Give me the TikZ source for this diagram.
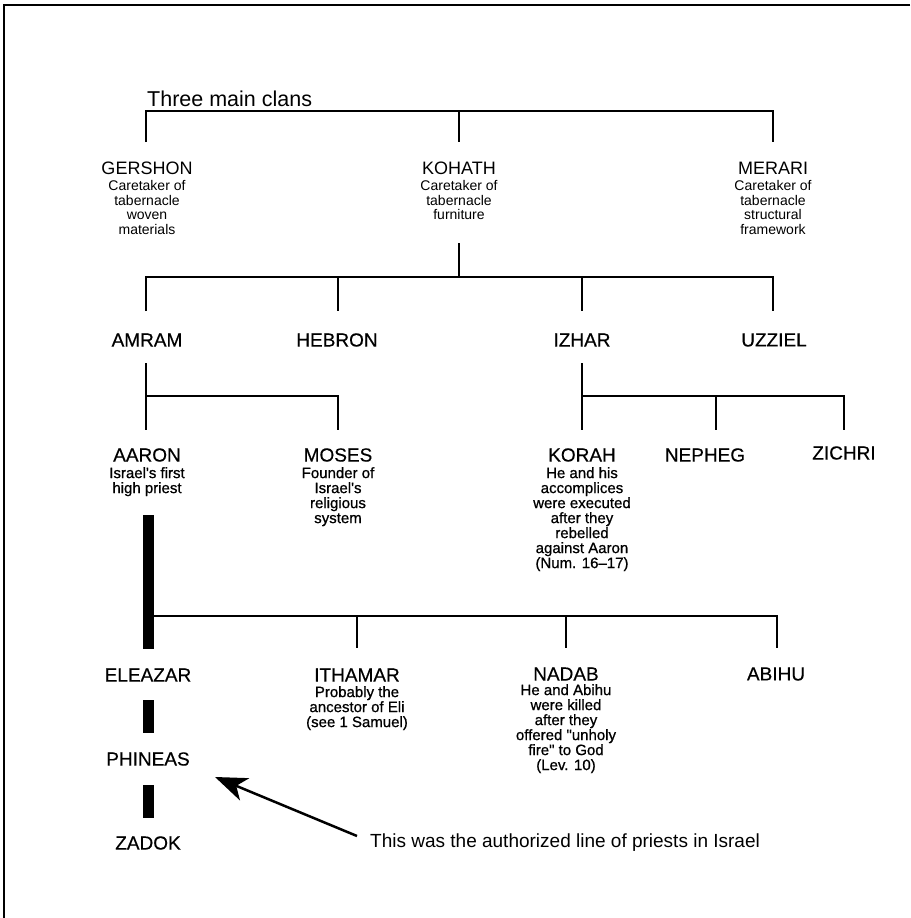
\documentclass[tikz,border=0pt]{standalone}
\usepackage{fontspec}
\setmainfont{Liberation Sans}
\newfontfamily\descfont[FakeBold=0.8]{Liberation Sans}
\newfontfamily\namefont[FakeBold=0.4]{Liberation Sans}
\usetikzlibrary{arrows.meta}
\begin{document}
\begin{tikzpicture}[x=1pt,y=-1pt,
  conn/.style={line width=2pt},
  lineage/.style={line width=11pt},
  ptopname/.style={inner sep=0pt,font=\fontsize{18}{18}\selectfont},
  pname/.style={inner sep=0pt,font=\namefont\fontsize{19}{19}\selectfont},
  ptopdesc/.style={inner sep=0pt,anchor=north,align=center,font=\fontsize{14}{14.7}\selectfont},
  pdesc/.style={inner sep=0pt,anchor=north,align=center,font=\descfont\fontsize{15}{15}\selectfont},
  pframe/.style={line width=2.5pt}]
\useasboundingbox (0,0) rectangle (910,918);
% frame
\coordinate (f-tl) at (4,5);
\coordinate (f-tr) at (910,5);
\coordinate (f-bl) at (4,918);
\draw[pframe] (f-tr) -- (f-tl) -- (f-bl);

% title
\node[inner sep=0pt,anchor=base west,font=\fontsize{21.5}{21.5}\selectfont] (title) at (147,106) {Three main clans};

% level 1
\node[ptopname] (gershon) at (147,168) {GERSHON};
\node[ptopdesc] (gershon-d) at (147,180) {Caretaker of\\tabernacle\\woven\\materials};
\node[ptopname] (kohath) at (459,168) {KOHATH};
\node[ptopdesc] (kohath-d) at (459,180) {Caretaker of\\tabernacle\\furniture};
\node[ptopname] (merari) at (773,168) {MERARI};
\node[ptopdesc] (merari-d) at (773,180) {Caretaker of\\tabernacle\\structural\\framework};

\coordinate (b1-l) at (146,111);
\coordinate (b1-m) at (459,111);
\coordinate (b1-r) at (773,111);
\draw[conn] (146,142) -- (b1-l) -- (b1-r) -- (773,142);
\draw[conn] (b1-m) -- (459,142);

% level 2
\coordinate (k-top) at (459,243);
\coordinate (b2-k) at (459,277);
\coordinate (b2-l) at (146,277);
\coordinate (b2-r) at (773,277);
\draw[conn] (k-top) -- (b2-k);
\draw[conn] (146,311) -- (b2-l) -- (b2-r) -- (773,311);
\draw[conn] (338,277) -- (338,311);
\draw[conn] (582,277) -- (582,311);

\node[pname] (amram) at (147,340) {AMRAM};
\node[pname] (hebron) at (337,340) {HEBRON};
\node[pname] (izhar) at (582,340) {IZHAR};
\node[pname] (uzziel) at (774,340) {UZZIEL};

% level 3
\coordinate (am-top) at (146,363);
\coordinate (am-bar) at (146,396);
\coordinate (am-r) at (338,396);
\draw[conn] (am-top) -- (146,430);
\draw[conn] (am-bar) -- (am-r) -- (338,430);

\coordinate (iz-top) at (582,363);
\coordinate (iz-bar) at (582,396);
\coordinate (iz-r) at (844,396);
\draw[conn] (iz-top) -- (582,430);
\draw[conn] (iz-bar) -- (iz-r) -- (844,430);
\draw[conn] (716,396) -- (716,430);

\node[pname] (aaron) at (147,455) {AARON};
\node[pdesc] (aaron-d) at (147,467) {Israel's first\\high priest};
\node[pname] (moses) at (338,455) {MOSES};
\node[pdesc] (moses-d) at (338,467) {Founder of\\Israel's\\religious\\system};
\node[pname] (korah) at (582,455) {KORAH};
\node[pdesc] (korah-d) at (582,467) {He and his\\accomplices\\were executed\\after they\\rebelled\\against Aaron\\(Num. 16–17)};
\node[pname] (nepheg) at (705,455) {NEPHEG};
\node[pname] (zichri) at (844,453) {ZICHRI};

% Aaron's sons
\coordinate (aa-top) at (148,515);
\coordinate (aa-bot) at (148,649);
\draw[lineage] (aa-top) -- (aa-bot);
\coordinate (aa-bar) at (152,616);
\coordinate (aa-r) at (777,616);
\draw[conn] (aa-bar) -- (aa-r) -- (777,648);
\draw[conn] (357,616) -- (357,648);
\draw[conn] (566,616) -- (566,648);

\node[pname] (eleazar) at (148,675) {ELEAZAR};
\node[pname] (ithamar) at (357,675) {ITHAMAR};
\node[pdesc] (ithamar-d) at (357,686) {Probably the\\ancestor of Eli\\(see 1 Samuel)};
\node[pname] (nadab) at (566,674) {NADAB};
\node[pdesc] (nadab-d) at (566,684) {He and Abihu\\were killed\\after they\\offered "unholy\\fire" to God\\(Lev. 10)};
\node[pname] (abihu) at (776,674) {ABIHU};

% priestly line
\node[pname] (phineas) at (148,759) {PHINEAS};
\node[pname] (zadok) at (148,843) {ZADOK};
\coordinate (e-p1) at (148,700);
\coordinate (e-p2) at (148,733);
\coordinate (p-z1) at (148,785);
\coordinate (p-z2) at (148,818);
\draw[lineage] (e-p1) -- (e-p2);
\draw[lineage] (p-z1) -- (p-z2);

% note
\node[inner sep=0pt,anchor=west,font=\fontsize{19}{19}\selectfont] (note) at (370,843) {This was the authorized line of priests in Israel};
\coordinate (arr-tail) at (357,836);
\coordinate (arr-tip) at (215,777);
\draw[line width=2.5pt,-{Stealth[length=32pt,width=24pt,inset=9pt]}] (arr-tail) -- (arr-tip);
\end{tikzpicture}
\end{document}
